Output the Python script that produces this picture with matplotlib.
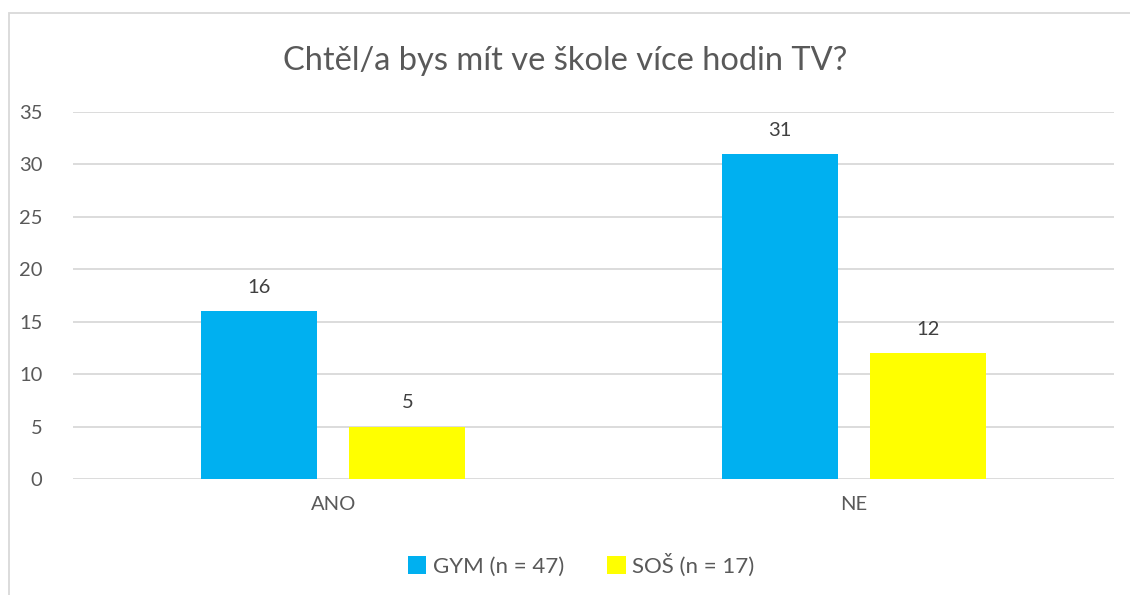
import matplotlib
matplotlib.use("Agg")
import matplotlib.pyplot as plt
import numpy as np
from matplotlib.patches import Rectangle

categories = ["ANO", "NE"]
series_names = ["GYM (n = 47)", "SOŠ (n = 17)"]
gym_values = [16, 31]
sos_values = [5, 12]
colors = ["#00B0F0", "#FFFF00"]
yticks = [0, 5, 10, 15, 20, 25, 30, 35]
title = "Chtěl/a bys mít ve škole více hodin TV?"

plt.rcParams['font.family'] = ['Lato', 'DejaVu Sans']
text_color = "#595959"

fig = plt.figure(figsize=(11.3, 5.95), dpi=100)
fig.patch.set_facecolor("white")
# chart border
fig.add_artist(Rectangle((9/1130, -0.05), 1.2, 1 - 13/595 + 0.05, transform=fig.transFigure,
                         fill=False, edgecolor="#D9D9D9", linewidth=1.3))

ax = fig.add_axes([73/1130, 1 - 479/595, (1114 - 73)/1130, (479 - 112)/595])
x = np.arange(len(categories))
w = 0.223
off = 0.1425
b1 = ax.bar(x - off, gym_values, w, color=colors[0], label=series_names[0], zorder=3)
b2 = ax.bar(x + off, sos_values, w, color=colors[1], label=series_names[1], zorder=3)
for bars in (b1, b2):
    ax.bar_label(bars, padding=11, fontsize=14.5, color="#404040")

ax.set_xlim(-0.5, 1.5)
ax.set_ylim(0, 35)
ax.set_yticks(yticks)
ax.set_xticks(x)
ax.set_xticklabels(categories)
ax.tick_params(axis='both', length=0, labelsize=14.5, colors=text_color)
ax.tick_params(axis='y', pad=22)
ax.tick_params(axis='x', pad=12)
ax.yaxis.grid(True, color="#D9D9D9", linewidth=1.3, zorder=0)
for s in ax.spines.values():
    s.set_visible(False)

fig.text(0.5, 1 - 61/595, title, ha='center', va='center', fontsize=23.5, color="#595959")
leg = fig.legend(loc='center', bbox_to_anchor=(581/1130, 1 - 565/595), ncol=2, frameon=False,
                 fontsize=16, handlelength=0.85, handleheight=0.85, handletextpad=0.3,
                 columnspacing=1.9, labelcolor=text_color)

fig.savefig("out.png", dpi=100, facecolor="white")
